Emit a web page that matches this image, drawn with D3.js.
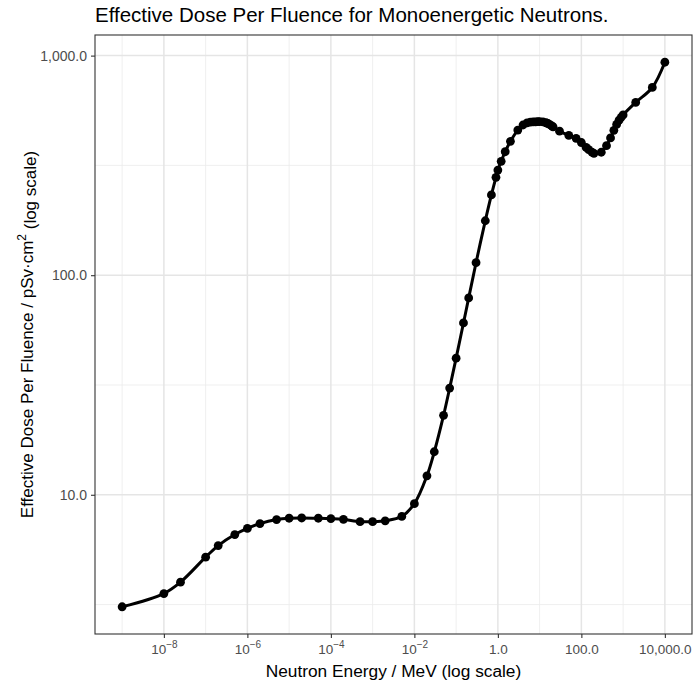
<!DOCTYPE html>
<html>
<head>
<meta charset="utf-8">
<script src="https://cdn.jsdelivr.net/npm/d3@7"></script>
<style>
  body { margin: 0; background: #fff; }
  text { font-family: "Liberation Sans", Arial, sans-serif; }
</style>
</head>
<body>
<svg id="chart" width="695" height="684"></svg>
<script>
// ICRP 116 effective dose per fluence, monoenergetic neutrons
const energy = [1e-9, 1e-8, 2.5e-8, 1e-7, 2e-7, 5e-7, 1e-6, 2e-6, 5e-6, 1e-5, 2e-5, 5e-5,
  1e-4, 2e-4, 5e-4, 1e-3, 2e-3, 5e-3, 0.01, 0.02, 0.03, 0.05, 0.07, 0.1, 0.15, 0.2, 0.3,
  0.5, 0.7, 0.9, 1, 1.2, 1.5, 2, 3, 4, 5, 6, 7, 8, 9, 10, 12, 14, 15, 16, 18, 20, 21, 30,
  50, 75, 100, 130, 150, 180, 200, 300, 400, 500, 600, 700, 800, 900, 1000, 2000, 5000, 10000];
const dose = [3.09, 3.55, 4.00, 5.20, 5.87, 6.59, 7.03, 7.39, 7.71, 7.82, 7.84, 7.82,
  7.79, 7.73, 7.54, 7.54, 7.61, 7.97, 9.11, 12.2, 15.7, 23.0, 30.6, 41.9, 60.6, 78.8, 114,
  177, 232, 279, 301, 330, 365, 407, 458, 483, 494, 498, 499, 499, 500, 500, 499, 495, 493, 490, 484, 477, 474, 453,
  433, 420, 402, 382, 373, 363, 359, 363, 389, 422, 457, 486, 508, 524, 537, 612, 716, 933];
const xTicks = [1e-8, 1e-6, 1e-4, 1e-2, 1, 100, 10000];
const xMinor = [1e-9, 1e-7, 1e-5, 1e-3, 0.1, 10, 1000];
const yTicks = [10, 100, 1000];
const yMinor = [Math.pow(10, 0.5), Math.pow(10, 1.5), Math.pow(10, 2.5)];

const data = energy.map((e, i) => ({e: e, d: dose[i]}));

const svg = d3.select("#chart");
const pLeft = 95, pRight = 692, pTop = 35, pBottom = 634;

// 5% expansion in log space, like ggplot
const lx = [Math.log10(1e-9), Math.log10(1e4)];
const ly = [Math.log10(d3.min(dose)), Math.log10(d3.max(dose))];
const ex = (lx[1] - lx[0]) * 0.05, ey = (ly[1] - ly[0]) * 0.05;

const x = d3.scaleLog()
  .domain([Math.pow(10, lx[0] - ex), Math.pow(10, lx[1] + ex)])
  .range([pLeft, pRight]);
const y = d3.scaleLog()
  .domain([Math.pow(10, ly[0] - ey), Math.pow(10, ly[1] + ey)])
  .range([pBottom, pTop]);

const grid = svg.append("g");
grid.selectAll(".xm").data(xMinor).join("line")
  .attr("x1", d => x(d)).attr("x2", d => x(d)).attr("y1", pTop).attr("y2", pBottom)
  .attr("stroke", "#ebebeb").attr("stroke-width", 0.8);
grid.selectAll(".ym").data(yMinor).join("line")
  .attr("y1", d => y(d)).attr("y2", d => y(d)).attr("x1", pLeft).attr("x2", pRight)
  .attr("stroke", "#ebebeb").attr("stroke-width", 0.8);
grid.selectAll(".xM").data(xTicks).join("line")
  .attr("x1", d => x(d)).attr("x2", d => x(d)).attr("y1", pTop).attr("y2", pBottom)
  .attr("stroke", "#e5e5e5").attr("stroke-width", 1.5);
grid.selectAll(".yM").data(yTicks).join("line")
  .attr("y1", d => y(d)).attr("y2", d => y(d)).attr("x1", pLeft).attr("x2", pRight)
  .attr("stroke", "#e5e5e5").attr("stroke-width", 1.5);

const line = d3.line()
  .x(d => x(d.e)).y(d => y(d.d))
  .curve(d3.curveCatmullRom.alpha(0.5));

svg.append("path").datum(data)
  .attr("d", line)
  .attr("fill", "none").attr("stroke", "#000").attr("stroke-width", 3);

svg.append("g").selectAll("circle").data(data).join("circle")
  .attr("cx", d => x(d.e)).attr("cy", d => y(d.d)).attr("r", 4.4)
  .attr("fill", "#000");

svg.append("rect")
  .attr("x", pLeft).attr("y", pTop).attr("width", pRight - pLeft).attr("height", pBottom - pTop)
  .attr("fill", "none").attr("stroke", "#333").attr("stroke-width", 1.1);

const fmt = d3.format(",.1f");

// x axis
const xAxis = svg.append("g").attr("transform", `translate(0,${pBottom})`)
  .call(d3.axisBottom(x).tickValues(xTicks).tickSize(4).tickPadding(4).tickFormat(() => ""));
xAxis.select(".domain").remove();
xAxis.selectAll(".tick line").attr("stroke", "#333").attr("stroke-width", 1.1);
xAxis.selectAll(".tick").each(function(d) {
  const t = d3.select(this).select("text")
    .attr("fill", "#4d4d4d").attr("font-size", 13.5).attr("y", 20).attr("dy", 0);
  if (d < 1) {
    const p = Math.round(Math.log10(d));
    t.append("tspan").text("10");
    t.append("tspan").attr("font-size", 10).attr("dy", "-0.6em").text("\u2212" + String(-p));
  } else {
    t.text(fmt(d));
  }
});

// y axis
const yAxis = svg.append("g").attr("transform", `translate(${pLeft},0)`)
  .call(d3.axisLeft(y).tickValues(yTicks).tickSize(4).tickPadding(4).tickFormat(fmt));
yAxis.select(".domain").remove();
yAxis.selectAll(".tick line").attr("stroke", "#333").attr("stroke-width", 1.1);
yAxis.selectAll(".tick text").attr("fill", "#4d4d4d").attr("font-size", 14);

// titles
svg.append("text").attr("x", pLeft).attr("y", 22)
  .attr("font-size", 20.5).attr("fill", "#000")
  .text("Effective Dose Per Fluence for Monoenergetic Neutrons.");

svg.append("text").attr("x", (pLeft + pRight) / 2).attr("y", 677)
  .attr("text-anchor", "middle").attr("font-size", 17.3).attr("fill", "#000")
  .text("Neutron Energy / MeV (log scale)");

const yt = svg.append("text")
  .attr("transform", `translate(33,${(pTop + pBottom) / 2}) rotate(-90)`)
  .attr("text-anchor", "middle").attr("font-size", 17).attr("fill", "#000");
yt.append("tspan").text("Effective Dose Per Fluence / pSv\u00B7cm");
yt.append("tspan").attr("font-size", 12).attr("dy", "-0.55em").text("2");
yt.append("tspan").attr("dy", "0.55em").text(" (log scale)");
</script>
</body>
</html>
